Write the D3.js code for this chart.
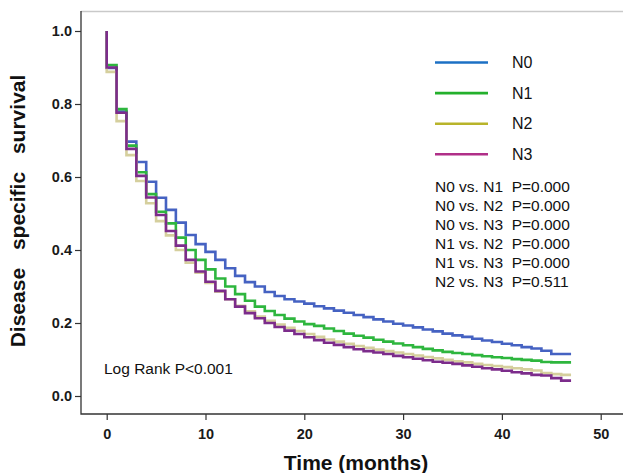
<!DOCTYPE html>
<html>
<head>
<meta charset="utf-8">
<script src="https://cdn.jsdelivr.net/npm/d3@7"></script>
<style>
  body { margin: 0; background: #fff; }
  svg { display: block; font-family: Arial, "Liberation Sans", sans-serif; }
</style>
</head>
<body>
<svg id="chart" width="623" height="473"></svg>
<script>
// KM estimates, one value per month (t = 0..46), curve runs to 47
const groups = ["N0", "N1", "N2", "N3"]
const n0 = [0.899, 0.779, 0.697, 0.641, 0.587, 0.543, 0.510, 0.475, 0.441, 0.416,
  0.395, 0.373, 0.350, 0.329, 0.312, 0.300, 0.285, 0.274, 0.265, 0.259,
  0.253, 0.246, 0.240, 0.234, 0.228, 0.222, 0.216, 0.210, 0.204, 0.198,
  0.193, 0.188, 0.182, 0.177, 0.171, 0.166, 0.162, 0.157, 0.152, 0.148,
  0.143, 0.139, 0.134, 0.130, 0.124, 0.115, 0.115]
const n1 = [0.907, 0.786, 0.686, 0.613, 0.553, 0.505, 0.473, 0.434, 0.400, 0.373,
  0.347, 0.322, 0.300, 0.279, 0.261, 0.245, 0.233, 0.222, 0.212, 0.204,
  0.197, 0.192, 0.185, 0.178, 0.171, 0.165, 0.160, 0.154, 0.149, 0.144,
  0.139, 0.134, 0.129, 0.125, 0.121, 0.118, 0.115, 0.112, 0.109, 0.106,
  0.104, 0.101, 0.099, 0.097, 0.093, 0.092, 0.092]
const n2 = [0.888, 0.753, 0.660, 0.589, 0.528, 0.479, 0.440, 0.400, 0.365, 0.338,
  0.310, 0.286, 0.265, 0.247, 0.232, 0.218, 0.206, 0.196, 0.187, 0.178,
  0.170, 0.162, 0.155, 0.149, 0.143, 0.137, 0.132, 0.127, 0.123, 0.119,
  0.115, 0.111, 0.107, 0.103, 0.099, 0.095, 0.092, 0.088, 0.085, 0.082,
  0.079, 0.076, 0.073, 0.070, 0.063, 0.060, 0.058]
const n3 = [0.900, 0.776, 0.677, 0.603, 0.544, 0.496, 0.452, 0.412, 0.373, 0.341,
  0.313, 0.288, 0.265, 0.245, 0.227, 0.213, 0.200, 0.189, 0.179, 0.170,
  0.161, 0.153, 0.146, 0.140, 0.134, 0.128, 0.123, 0.119, 0.115, 0.110,
  0.106, 0.102, 0.098, 0.094, 0.091, 0.088, 0.084, 0.080, 0.076, 0.073,
  0.069, 0.065, 0.062, 0.058, 0.056, 0.049, 0.042]
const endTime = 47
const xTicks = [0, 10, 20, 30, 40, 50]
const yTicks = [0, 0.2, 0.4, 0.6, 0.8, 1.0]
const pairTests = [
  "N0 vs. N1  P=0.000",
  "N0 vs. N2  P=0.000",
  "N0 vs. N3  P=0.000",
  "N1 vs. N2  P=0.000",
  "N1 vs. N3  P=0.000",
  "N2 vs. N3  P=0.511"
]

const curveColors = ["#4562c2", "#2eb63e", "#d5cf9d", "#7c2c8b"]
const legendColors = ["#1c70c4", "#24b02c", "#b8b42a", "#b02f88"]

const svg = d3.select("#chart")

const x = d3.scaleLinear().domain([0, 50]).range([106.7, 600.7])
const y = d3.scaleLinear().domain([0, 1]).range([396, 31])

const frameL = 81, frameT = 11, frameB = 414, frameR = 623

// frame: light top line, dark left / bottom axes
svg.append("line")
  .attr("x1", frameL).attr("x2", frameR).attr("y1", frameT + 0.5).attr("y2", frameT + 0.5)
  .attr("stroke", "#c9c9c9").attr("stroke-width", 1.3)

const yAxis = svg.append("g")
  .attr("transform", `translate(${frameL},0)`)
  .call(d3.axisLeft(y).tickValues(yTicks).tickFormat(d3.format(".1f"))
    .tickSize(6).tickPadding(3).tickSizeOuter(0))
yAxis.select(".domain").remove()

const xAxis = svg.append("g")
  .attr("transform", `translate(0,${frameB})`)
  .call(d3.axisBottom(x).tickValues(xTicks).tickFormat(d3.format("d"))
    .tickSize(6).tickPadding(9).tickSizeOuter(0))
xAxis.select(".domain").remove()

svg.selectAll(".tick line").attr("stroke", "#333").attr("stroke-width", 1.2)
svg.selectAll(".tick text")
  .attr("font-family", "Arial, 'Liberation Sans', sans-serif")
  .attr("font-size", 14.5).attr("font-weight", "bold").attr("fill", "#1a1a1a")

svg.append("path")
  .attr("d", `M${frameL},${frameT}V${frameB}H${frameR}`)
  .attr("fill", "none").attr("stroke", "#333").attr("stroke-width", 1.3)

// survival curves
const line = d3.line()
  .x(d => x(d[0]))
  .y(d => y(d[1]))
  .curve(d3.curveStepAfter)

const series = [n0, n1, n2, n3].map(vals => {
  const pts = [[0, 1]]
  vals.forEach((v, i) => pts.push([i, v]))
  pts.push([endTime, vals[vals.length - 1]])
  return pts
})

svg.append("g").selectAll("path")
  .data(series)
  .join("path")
  .attr("d", line)
  .attr("fill", "none")
  .attr("stroke", (d, i) => curveColors[i])
  .attr("stroke-width", 2.6)

// legend
const legend = svg.append("g")
groups.forEach((g, i) => {
  const ly = 62.5 + i * 30.6
  legend.append("line")
    .attr("x1", 435).attr("x2", 488).attr("y1", ly).attr("y2", ly)
    .attr("stroke", legendColors[i]).attr("stroke-width", 2.6)
  legend.append("text")
    .attr("x", 512).attr("y", ly).attr("dy", "0.35em")
    .attr("font-size", 16).attr("fill", "#111").text(g)
})

svg.append("g").selectAll("text")
  .data(pairTests)
  .join("text")
  .attr("x", 435)
  .attr("y", (d, i) => 186.7 + i * 18.9)
  .attr("dy", "0.35em")
  .attr("font-size", 15.5)
  .attr("fill", "#111")
  .style("white-space", "pre")
  .text(d => d)

svg.append("text")
  .attr("x", 104).attr("y", 368.3).attr("dy", "0.35em")
  .attr("font-size", 15.5).attr("fill", "#111")
  .text("Log Rank P<0.001")

// axis titles
svg.append("text")
  .attr("transform", "translate(18,211) rotate(-90)")
  .attr("text-anchor", "middle").attr("dy", "0.35em")
  .attr("font-size", 21).attr("font-weight", "bold").attr("fill", "#111")
  .attr("word-spacing", 12)
  .text("Disease specific survival")

svg.append("text")
  .attr("x", 356).attr("y", 463).attr("dy", "0.35em")
  .attr("text-anchor", "middle")
  .attr("font-size", 21).attr("font-weight", "bold").attr("fill", "#111")
  .text("Time (months)")
</script>
</body>
</html>
